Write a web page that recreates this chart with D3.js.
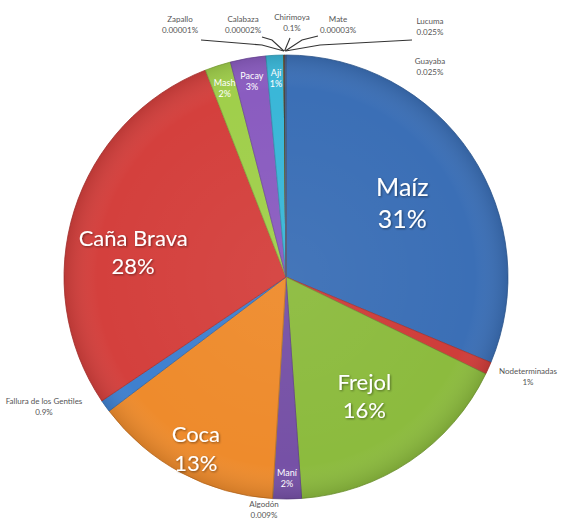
<!DOCTYPE html>
<html>
<head>
<meta charset="utf-8">
<script src="https://cdn.jsdelivr.net/npm/d3@7"></script>
<style>
  body { margin: 0; background: #fff; }
  svg { display: block; }
</style>
</head>
<body>
<div id="viz"></div>
<script>
// data (clockwise from 12 o'clock)
var categories = ["Maíz", "Nodeterminadas", "Frejol", "Maní", "Algodón", "Coca",
  "Fallura de los Gentiles", "Caña Brava", "Mash", "Pacay", "Ají",
  "Zapallo", "Calabaza", "Chirimoya", "Mate", "Lucuma", "Guayaba"]
var values = [31.5, 0.9, 16.8, 2.1, 0.009, 13.8, 0.9, 28.7, 1.9, 2.6, 1.3,
  0.00001, 0.00002, 0.1, 0.00003, 0.025, 0.025]
var pctLabels = ["31%", "1%", "16%", "2%", "0.009%", "13%", "0.9%", "28%", "2%", "3%", "1%",
  "0.00001%", "0.00002%", "0.1%", "0.00003%", "0.025%", "0.025%"]
var colors = ["#3b6fb6", "#cf3d3a", "#8cbb3e", "#7651a6", "#9a9a9a", "#ee8b2c",
  "#3f80cf", "#d4403d", "#a0cf4b", "#8a5cc0", "#3ab7d8",
  "#d4403d", "#8cbb3e", "#4a4a4a", "#7651a6", "#ee8b2c", "#3b6fb6"]

var width = 570, height = 527
var cx = 286, cy = 277, radius = 222

// label layout: inside labels [radius fraction, font size, angle shift in degrees]
var bigInside = {
  "Maíz": [0.63, 25, 0],
  "Frejol": [0.63, 22, 0],
  "Caña Brava": [0.70, 22, -7],
  "Coca": [0.86, 22, 0]
}
var smallInside = { "Maní": 0.9, "Mash": 0.9, "Pacay": 0.9, "Ají": 0.9 }
// outside labels, with the elbow points of their leader lines
var outside = {
  "Nodeterminadas": { x: 528, y: 374 },
  "Algodón": { x: 264, y: 507 },
  "Fallura de los Gentiles": { x: 44, y: 404 },
  "Zapallo": { x: 180, y: 22, leader: [[201, 40], [262, 45]] },
  "Calabaza": { x: 243, y: 22, leader: [[262, 37], [272, 40]] },
  "Chirimoya": { x: 292, y: 20, leader: [[290, 38]] },
  "Mate": { x: 338, y: 22, leader: [[318, 36], [302, 40]] },
  "Lucuma": { x: 430, y: 24, leader: [[412, 40], [320, 45]] },
  "Guayaba": { x: 430, y: 64 }
}

var svg = d3.select("#viz").append("svg")
  .attr("width", width)
  .attr("height", height)

var pie = d3.pie().sort(null).value(function (d) { return d.value })
var arcs = pie(categories.map(function (c, i) {
  return { name: c, value: values[i], pct: pctLabels[i], color: colors[i] }
}))

var arc = d3.arc().innerRadius(0).outerRadius(radius)

var g = svg.append("g").attr("transform", "translate(" + cx + "," + cy + ")")

// soft shading like the office chart
var defs = svg.append("defs")
var grad = defs.append("radialGradient").attr("id", "shade")
  .attr("cx", "50%").attr("cy", "50%").attr("r", "50%")
grad.append("stop").attr("offset", "0%").attr("stop-color", "#fff").attr("stop-opacity", 0.05)
grad.append("stop").attr("offset", "85%").attr("stop-color", "#fff").attr("stop-opacity", 0)
grad.append("stop").attr("offset", "100%").attr("stop-color", "#000").attr("stop-opacity", 0.12)

var shadow = defs.append("filter").attr("id", "txtshadow")
  .attr("x", "-20%").attr("y", "-20%").attr("width", "140%").attr("height", "140%")
shadow.append("feDropShadow").attr("dx", 1).attr("dy", 1).attr("stdDeviation", 0.8)
  .attr("flood-color", "#000").attr("flood-opacity", 0.45)

g.selectAll("path.slice")
  .data(arcs)
  .enter().append("path")
  .attr("class", "slice")
  .attr("d", arc)
  .style("fill", function (d) { return d.data.color })
  .style("stroke", function (d) { return d3.color(d.data.color).darker(0.6) })
  .style("stroke-width", 0.8)

g.append("circle").attr("r", radius).style("fill", "url(#shade)")

// leader lines for the tiny slices at the top
var leaderArc = d3.arc().innerRadius(radius + 4).outerRadius(radius + 4)
g.selectAll("path.leader")
  .data(arcs.filter(function (d) { return outside[d.data.name] && outside[d.data.name].leader }))
  .enter().append("path")
  .attr("class", "leader")
  .attr("d", function (d) {
    var p = leaderArc.centroid(d)
    var pts = outside[d.data.name].leader.map(function (q) { return [q[0] - cx, q[1] - cy] })
    pts.push([p[0], p[1]])
    return d3.line()(pts)
  })
  .style("fill", "none")
  .style("stroke", "#333")
  .style("stroke-width", 1.1)

// big labels inside
Object.keys(bigInside).forEach(function (name) {
  var d = arcs.find(function (a) { return a.data.name == name })
  var r = radius * bigInside[name][0]
  var shift = bigInside[name][2] * Math.PI / 180
  var a = (d.startAngle + d.endAngle) / 2 + shift
  var p = [r * Math.sin(a), -r * Math.cos(a)]
  var fs = bigInside[name][1]
  var t = g.append("text")
    .attr("text-anchor", "middle")
    .attr("filter", "url(#txtshadow)")
    .style("font-family", "Lato, 'Open Sans', sans-serif")
    .style("font-size", fs + "px")
    .style("fill", "#fff")
  t.append("tspan").attr("x", p[0]).attr("y", p[1] - fs * 0.15).text(name)
  t.append("tspan").attr("x", p[0]).attr("y", p[1] + fs * 1.15).text(d.data.pct)
})

// small labels inside the thin slices
Object.keys(smallInside).forEach(function (name) {
  var d = arcs.find(function (a) { return a.data.name == name })
  var r = radius * smallInside[name]
  var p = d3.arc().innerRadius(r).outerRadius(r).centroid(d)
  var t = g.append("text")
    .attr("text-anchor", "middle")
    .style("font-family", "Lato, 'Open Sans', sans-serif")
    .style("font-size", "9px")
    .style("fill", "#fff")
  t.append("tspan").attr("x", p[0]).attr("y", p[1] - 1).text(name)
  t.append("tspan").attr("x", p[0]).attr("y", p[1] + 10).text(d.data.pct)
})

// outside labels
Object.keys(outside).forEach(function (name) {
  var d = arcs.find(function (a) { return a.data.name == name })
  var o = outside[name]
  var t = svg.append("text")
    .attr("text-anchor", "middle")
    .style("font-family", "Lato, 'Open Sans', sans-serif")
    .style("font-size", "8px")
    .style("fill", "#555")
  t.append("tspan").attr("x", o.x).attr("y", o.y).text(name)
  t.append("tspan").attr("x", o.x).attr("y", o.y + 11).text(d.data.pct)
})
</script>
</body>
</html>
